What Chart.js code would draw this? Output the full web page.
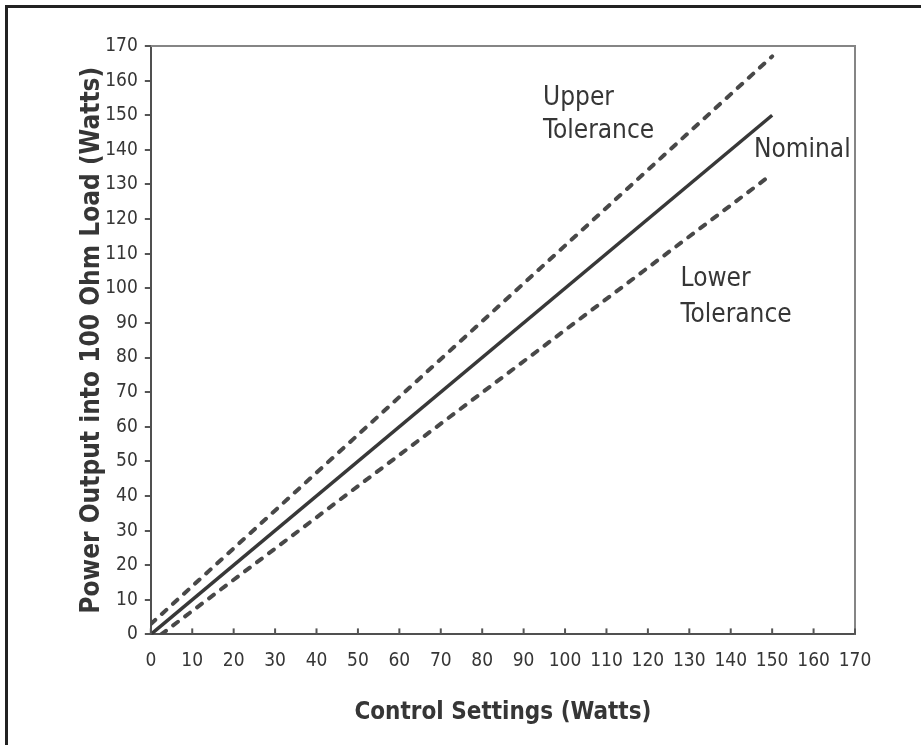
<!DOCTYPE html>
<html>
<head>
<meta charset="utf-8">
<script src="https://cdn.jsdelivr.net/npm/chart.js@4.4.1/dist/chart.umd.min.js"></script>
<style>
  html, body { margin: 0; padding: 0; background: #fff; }
  #wrap { position: relative; width: 921px; height: 745px; overflow: hidden; }
  #frame { position: absolute; left: 5px; top: 5px; width: 980px; height: 800px;
           border-left: 3px solid #222; border-top: 3px solid #222; }
  #chart { position: absolute; left: 0; top: 0; }
</style>
</head>
<body>
<div id="wrap">
  <canvas id="chart" width="921" height="745"></canvas>
  <div id="frame"></div>
</div>
<script>
// ── Data ──
const AXIS_MIN = 0;
const AXIS_MAX = 170;
const AXIS_STEP = 10;

const nominalX = [0, 150];
const nominalY = [0, 150];
const upperX   = [0, 150];
const upperY   = [3, 167];
const lowerX   = [2.5, 150];
const lowerY   = [0, 133];

// annotation labels: [text, x, y (baseline)] in data units
const labelTexts = ["Upper", "Tolerance", "Nominal", "Lower", "Tolerance"];
const labelX     = [94.7, 94.7, 145.6, 127.9, 127.9];
const labelY     = [152.9, 143.4, 138, 100.8, 90.4];

const FONT = '"DejaVu Sans Condensed", "Liberation Sans", sans-serif';
const INK = "#363636";

const toPoints = (xs, ys) => xs.map((x, i) => ({ x, y: ys[i] }));

// ── Plugin: plot frame (top/right), inward x ticks, text labels ──
const decorations = {
    id: "decorations",
    afterDraw(chart) {
        const { ctx, chartArea: a, scales } = chart;
        ctx.save();

        // top + right frame
        ctx.strokeStyle = "#858585";
        ctx.lineWidth = 2;
        ctx.beginPath();
        ctx.moveTo(a.left, a.top);
        ctx.lineTo(a.right, a.top);
        ctx.lineTo(a.right, a.bottom);
        ctx.stroke();

        // x ticks pointing up into the plot
        ctx.strokeStyle = "#555";
        ctx.lineWidth = 2;
        scales.x.ticks.forEach(t => {
            const px = scales.x.getPixelForValue(t.value);
            ctx.beginPath();
            ctx.moveTo(px, a.bottom);
            ctx.lineTo(px, a.bottom - 6);
            ctx.stroke();
        });

        // line labels
        ctx.fillStyle = INK;
        ctx.font = `26px ${FONT}`;
        ctx.textAlign = "left";
        ctx.textBaseline = "alphabetic";
        labelTexts.forEach((txt, i) => {
            ctx.fillText(txt, scales.x.getPixelForValue(labelX[i]), scales.y.getPixelForValue(labelY[i]));
        });

        ctx.restore();
    }
};

new Chart(document.getElementById("chart"), {
    type: "scatter",
    data: {
        datasets: [
            {
                label: "Upper Tolerance",
                data: toPoints(upperX, upperY),
                showLine: true,
                borderColor: "#484848",
                borderWidth: 4,
                borderDash: [6, 9],
                borderCapStyle: "round",
                pointRadius: 0,
            },
            {
                label: "Nominal",
                data: toPoints(nominalX, nominalY),
                showLine: true,
                borderColor: "#383838",
                borderWidth: 3.5,
                pointRadius: 0,
            },
            {
                label: "Lower Tolerance",
                data: toPoints(lowerX, lowerY),
                showLine: true,
                borderColor: "#484848",
                borderWidth: 4,
                borderDash: [6, 9],
                borderCapStyle: "round",
                pointRadius: 0,
            },
        ],
    },
    options: {
        responsive: false,
        animation: false,
        layout: { padding: { left: 77, right: 66, top: 46, bottom: 18 } },
        plugins: {
            legend: { display: false },
            tooltip: { enabled: false },
        },
        scales: {
            x: {
                type: "linear",
                min: AXIS_MIN,
                max: AXIS_MAX,
                grid: { display: false, drawTicks: false },
                border: { display: true, color: "#505050", width: 2 },
                ticks: {
                    stepSize: AXIS_STEP,
                    padding: 15,
                    color: INK,
                    maxRotation: 0,
                    autoSkip: false,
                    font: { family: FONT, size: 19 },
                },
                title: {
                    display: true,
                    text: "Control Settings (Watts)",
                    color: INK,
                    padding: { top: 11, bottom: 0 },
                    font: { family: FONT, size: 24, weight: "bold" },
                },
            },
            y: {
                type: "linear",
                min: AXIS_MIN,
                max: AXIS_MAX,
                grid: { drawOnChartArea: false, drawTicks: true, tickLength: 6, color: "#555", lineWidth: 2 },
                border: { display: true, color: "#505050", width: 2 },
                ticks: {
                    stepSize: AXIS_STEP,
                    padding: 7,
                    color: INK,
                    autoSkip: false,
                    font: { family: FONT, size: 19 },
                },
                title: {
                    display: true,
                    text: "Power Output into 100 Ohm Load (Watts)",
                    color: INK,
                    padding: { top: 0, bottom: -10 },
                    font: { family: FONT, size: 26, weight: "bold" },
                },
            },
        },
    },
    plugins: [decorations],
});
</script>
</body>
</html>
